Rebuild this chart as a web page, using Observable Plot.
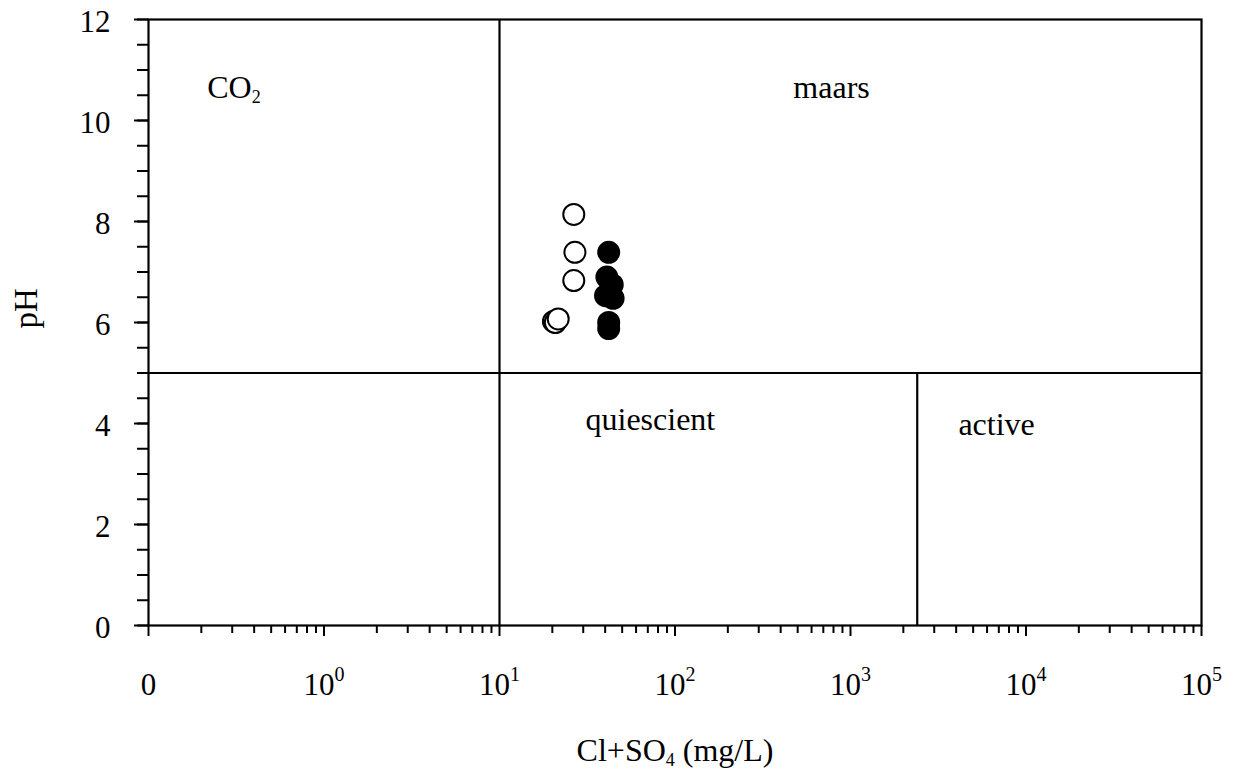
<!DOCTYPE html>
<html><head><meta charset="utf-8">
<script src="https://cdn.jsdelivr.net/npm/d3@7"></script>
<script src="https://cdn.jsdelivr.net/npm/@observablehq/plot@0.6"></script>
<style>body{margin:0;background:#fff} svg{display:block}</style>
</head><body><div id="chart"></div>
<script>
// Samples (Cl+SO4 in mg/L, pH)
const openX  = [26.5, 26.9, 26.5, 20.3, 20.8, 21.6];
const openPH = [8.14, 7.39, 6.83, 6.02, 6.0, 6.07];
const filledX  = [41.9, 40.9, 43.9, 40.2, 44.4, 41.9, 41.9];
const filledPH = [7.39, 6.9, 6.75, 6.53, 6.48, 6.0, 5.88];

// Field boundaries
const boundaryX = [10, 2400];
const boundaryTopPH = [12, 5];
const boundaryPH = [5];

// Ticks
const majorXTicks = [0.1, 1, 10, 100, 1000, 10000, 100000];
const majorXLabels = ["0", "10^0", "10^1", "10^2", "10^3", "10^4", "10^5"];
const majorYTicks = [0, 2, 4, 6, 8, 10, 12];
const majorYLabels = ["0", "2", "4", "6", "8", "10", "12"];
const minorYTicks = d3.range(0, 12.01, 0.5);
const minorMultipliers = [2, 3, 4, 5, 6, 7, 8, 9];
const decades = [0.1, 1, 10, 100, 1000, 10000];

// Field labels
const regionNames = ["CO_2", "maars", "quiescient", "active"];
const regionX = [0.307, 780, 72.4, 6800];
const regionPH = [10.44, 10.44, 3.88, 3.77];

const xTitle = "Cl+SO_4 (mg/L)";
const yTitle = "pH";

const openPts = openX.map((x, i) => ({x, ph: openPH[i]}));
const filledPts = filledX.map((x, i) => ({x, ph: filledPH[i]}));
const regions = regionNames.map((name, i) => ({name, x: regionX[i], ph: regionPH[i]}));
const xLab = majorXTicks.map((v, i) => ({v, t: majorXLabels[i]}));
const yLab = majorYTicks.map((v, i) => ({v, t: majorYLabels[i]}));
const minorXTicks = decades.flatMap(d => minorMultipliers.map(m => m * d));
const serif = "'Liberation Serif', 'Times New Roman', serif";

const chart = Plot.plot({
  width: 1233, height: 776,
  marginLeft: 148, marginRight: 32, marginTop: 19, marginBottom: 151,
  style: {fontFamily: serif, background: "white", color: "black"},
  x: {type: "log", domain: [0.1, 1e5]},
  y: {domain: [0, 12]},
  marks: [
    Plot.axisX(minorXTicks, {tickSize: 8, tickFormat: () => "", strokeWidth: 2, label: null}),
    Plot.axisX(majorXTicks, {tickSize: 11, tickFormat: () => "", strokeWidth: 2, label: null}),
    Plot.axisY(minorYTicks, {tickSize: 11, tickFormat: () => "", strokeWidth: 2, label: null}),
    Plot.axisY(majorYTicks, {tickSize: 14, tickFormat: () => "", strokeWidth: 2, label: null}),
    Plot.text(xLab, {x: "v", text: "t", frameAnchor: "bottom", dy: 69, lineAnchor: "bottom", textAnchor: "middle", fontSize: 31, fill: "black"}),
    Plot.text(yLab, {y: "v", text: "t", frameAnchor: "left", dx: -38, dy: 3, lineAnchor: "middle", textAnchor: "end", fontSize: 31, fill: "black"}),
    Plot.ruleX(boundaryX, {y1: 0, y2: boundaryTopPH, stroke: "black", strokeWidth: 2.2}),
    Plot.ruleY(boundaryPH, {stroke: "black", strokeWidth: 2.2}),
    Plot.frame({stroke: "black", strokeWidth: 2.2}),
    Plot.dot(openPts, {x: "x", y: "ph", r: 10.5, stroke: "black", strokeWidth: 2, fill: "white"}),
    Plot.dot(filledPts, {x: "x", y: "ph", r: 10.5, stroke: "black", strokeWidth: 2, fill: "black"}),
    Plot.text(regions, {x: "x", y: "ph", text: "name", fontSize: 32, lineAnchor: "bottom", textAnchor: "middle", fill: "black"}),
    Plot.text([xTitle], {text: d => d, frameAnchor: "bottom", dy: 135, lineAnchor: "bottom", fontSize: 32, fill: "black"}),
    Plot.text([yTitle], {text: d => d, frameAnchor: "left", rotate: -90, dx: -112, dy: 6, lineAnchor: "bottom", fontSize: 33, fill: "black"})
  ]
});

// Superscripts and subscripts as real text tspans
d3.select(chart).selectAll("text").each(function () {
  const t = this.textContent;
  const sup = t.match(/^10\^(\d+)$/);
  const el = d3.select(this);
  if (sup) {
    this.textContent = "";
    el.append("tspan").text("10");
    el.append("tspan").attr("font-size", 20).attr("dy", -14).text(sup[1]);
  } else if (t.includes("_")) {
    this.textContent = "";
    const parts = t.split(/_(\d)/);
    parts.forEach((p, i) => {
      if (!p) return;
      if (i % 2 === 1) {
        el.append("tspan").attr("font-size", 18).attr("dy", 5).text(p);
      } else {
        const ts = el.append("tspan").text(p);
        if (i > 0) ts.attr("dy", -5);
      }
    });
  }
});

document.getElementById("chart").appendChild(chart);
</script>
</body></html>
